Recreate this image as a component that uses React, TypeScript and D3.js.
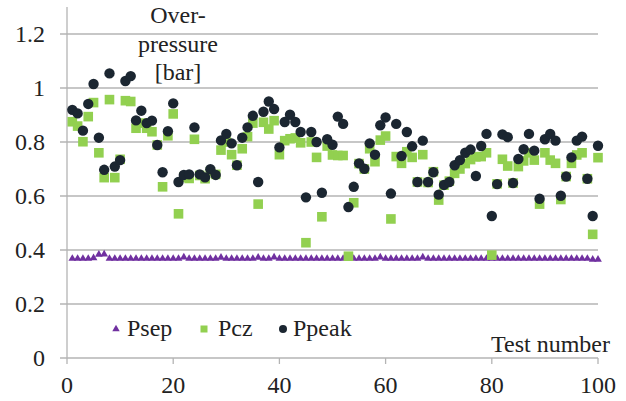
import React from "react";
import * as d3 from "d3";

const tests = d3.range(1, 101);

const ppeak = [
  0.919, 0.906, 0.842, 0.941, 1.015, 0.816, 0.697, 1.054, 0.709, 0.733,
  1.026, 1.044, 0.88, 0.916, 0.87, 0.879, 0.789, 0.688, 0.84, 0.943,
  0.652, 0.678, 0.68, 0.854, 0.68, 0.669, 0.699, 0.678, 0.806, 0.83,
  0.795, 0.714, 0.816, 0.854, 0.897, 0.652, 0.912, 0.95, 0.922, 0.78,
  0.874, 0.901, 0.874, 0.837, 0.595, 0.837, 0.8, 0.612, 0.81, 0.79,
  0.894, 0.867, 0.559, 0.634, 0.721, 0.701, 0.795, 0.753, 0.862, 0.891,
  0.609, 0.867, 0.748, 0.837, 0.784, 0.652, 0.805, 0.652, 0.688, 0.605,
  0.641, 0.652, 0.714, 0.733, 0.76, 0.772, 0.674, 0.785, 0.83, 0.526,
  0.644, 0.828, 0.818, 0.648, 0.737, 0.773, 0.83, 0.768, 0.59, 0.81,
  0.83, 0.805, 0.601, 0.672, 0.743, 0.805, 0.82, 0.664, 0.526, 0.786,
];

const pcz = [
  0.875, 0.859, 0.801, 0.894, 0.946, 0.76, 0.668, 0.957, 0.668, 0.736,
  0.953, 0.95, 0.851, 0.87, 0.851, 0.838, 0.789, 0.634, 0.823, 0.904,
  0.534, 0.67, 0.665, 0.81, 0.676, 0.664, 0.69, 0.68, 0.77, 0.8,
  0.753, 0.714, 0.775, 0.82, 0.87, 0.57, 0.873, 0.848, 0.879, 0.753,
  0.805, 0.812, 0.815, 0.797, 0.427, 0.8, 0.743, 0.523, 0.785, 0.752,
  0.75, 0.75, 0.377, 0.575, 0.72, 0.7, 0.775, 0.727, 0.807, 0.822,
  0.515, 0.746, 0.721, 0.764, 0.743, 0.652, 0.753, 0.65, 0.69, 0.585,
  0.64, 0.655, 0.684, 0.7, 0.72, 0.735, 0.745, 0.746, 0.76, 0.381,
  0.645, 0.736, 0.711, 0.648, 0.709, 0.73, 0.76, 0.733, 0.57, 0.76,
  0.733, 0.721, 0.587, 0.672, 0.721, 0.752, 0.76, 0.664, 0.458, 0.742,
];

const psep = [
  0.37, 0.37, 0.37, 0.37, 0.372, 0.385, 0.386, 0.37, 0.37, 0.37,
  0.37, 0.37, 0.37, 0.37, 0.37, 0.37, 0.37, 0.37, 0.37, 0.37,
  0.37, 0.375, 0.37, 0.37, 0.37, 0.37, 0.37, 0.37, 0.374, 0.37,
  0.37, 0.37, 0.37, 0.37, 0.37, 0.374, 0.37, 0.37, 0.375, 0.37,
  0.37, 0.37, 0.37, 0.37, 0.37, 0.37, 0.37, 0.37, 0.37, 0.37,
  0.37, 0.37, 0.37, 0.37, 0.37, 0.37, 0.37, 0.37, 0.375, 0.37,
  0.37, 0.37, 0.37, 0.37, 0.37, 0.37, 0.375, 0.37, 0.37, 0.37,
  0.37, 0.37, 0.37, 0.37, 0.37, 0.37, 0.37, 0.37, 0.37, 0.37,
  0.37, 0.37, 0.37, 0.37, 0.37, 0.37, 0.37, 0.37, 0.37, 0.37,
  0.37, 0.37, 0.37, 0.37, 0.37, 0.37, 0.37, 0.37, 0.367, 0.367,
];

const yTicks = [0, 0.2, 0.4, 0.6, 0.8, 1, 1.2];
const yTickLabels = ["0", "0.2", "0.4", "0.6", "0.8", "1", "1.2"];
const xTicks = [0, 20, 40, 60, 80, 100];
const seriesNames = ["Psep", "Pcz", "Ppeak"];
const titleLines = ["Over-", "pressure", "[bar]"];
const xAxisTitle = "Test number";

const W = 626;
const H = 401;
const FONT = "Liberation Serif, Times New Roman, Times, serif";
const C_SEP = "#7030a0";
const C_CZ = "#92d050";
const C_PEAK = "#1b2631";
const GRID = "#b4b4b4";

export default function App() {
  const x = d3.scaleLinear().domain([0, 100]).range([67, 598]);
  const y = d3.scaleLinear().domain([0, 1.2]).range([358, 34]);
  const tri = d3.symbol().type(d3.symbolTriangle).size(26)();
  const triLeg = d3.symbol().type(d3.symbolTriangle).size(24)();
  const tStyle = { fontFamily: FONT, fontSize: "24px" };

  return (
    <svg
      width={W}
      height={H}
      style={{ position: "absolute", left: 0, top: 0, background: "#fff", fontFamily: FONT }}
    >
      <rect x={0} y={0} width={W} height={H} fill="#fff" />
      {yTicks.map((t) =>
        t === 0 ? null : (
          <line key={t} x1={60} x2={x(100)} y1={y(t)} y2={y(t)} stroke={GRID} strokeWidth={1.3} />
        )
      )}
      <line x1={x(0)} x2={x(0)} y1={y(1.3)} y2={y(0)} stroke={GRID} strokeWidth={1.3} />
      <line x1={60} x2={x(100)} y1={y(0)} y2={y(0)} stroke={GRID} strokeWidth={1.3} />
      {xTicks.map((t) => (
        <line key={t} x1={x(t)} x2={x(t)} y1={y(0)} y2={y(0) + 6} stroke={GRID} strokeWidth={1.3} />
      ))}
      {yTicks.map((t, i) => (
        <text key={t} x={45} y={y(t) + 8} textAnchor="end" style={tStyle} fill="#222">
          {yTickLabels[i]}
        </text>
      ))}
      {xTicks.map((t) => (
        <text key={t} x={x(t)} y={393} textAnchor="middle" style={tStyle} fill="#222">
          {t}
        </text>
      ))}
      {psep.map((v, i) => (
        <path key={"s" + i} d={tri} transform={`translate(${x(tests[i])},${y(v) + 0.5})`} fill={C_SEP} />
      ))}
      {pcz.map((v, i) => (
        <rect key={"c" + i} x={x(tests[i]) - 4.8} y={y(v) - 4.8} width={9.6} height={9.6} fill={C_CZ} />
      ))}
      {ppeak.map((v, i) => (
        <circle key={"p" + i} cx={x(tests[i])} cy={y(v)} r={5.2} fill={C_PEAK} />
      ))}
      {titleLines.map((s, i) => (
        <text key={s} x={178} y={23 + i * 28.5} textAnchor="middle" style={tStyle} fill="#222">
          {s}
        </text>
      ))}
      <path d={triLeg} transform="translate(116,329)" fill={C_SEP} />
      <text x={127} y={336} style={tStyle} fill="#222">{seriesNames[0]}</text>
      <rect x={200.5} y={325.5} width={7} height={7} fill={C_CZ} />
      <text x={218} y={336} style={tStyle} fill="#222">{seriesNames[1]}</text>
      <circle cx={283} cy={329} r={4} fill={C_PEAK} />
      <text x={293} y={336} style={tStyle} fill="#222">{seriesNames[2]}</text>
      <text x={610} y={352} textAnchor="end" style={tStyle} fill="#222">{xAxisTitle}</text>
    </svg>
  );
}
